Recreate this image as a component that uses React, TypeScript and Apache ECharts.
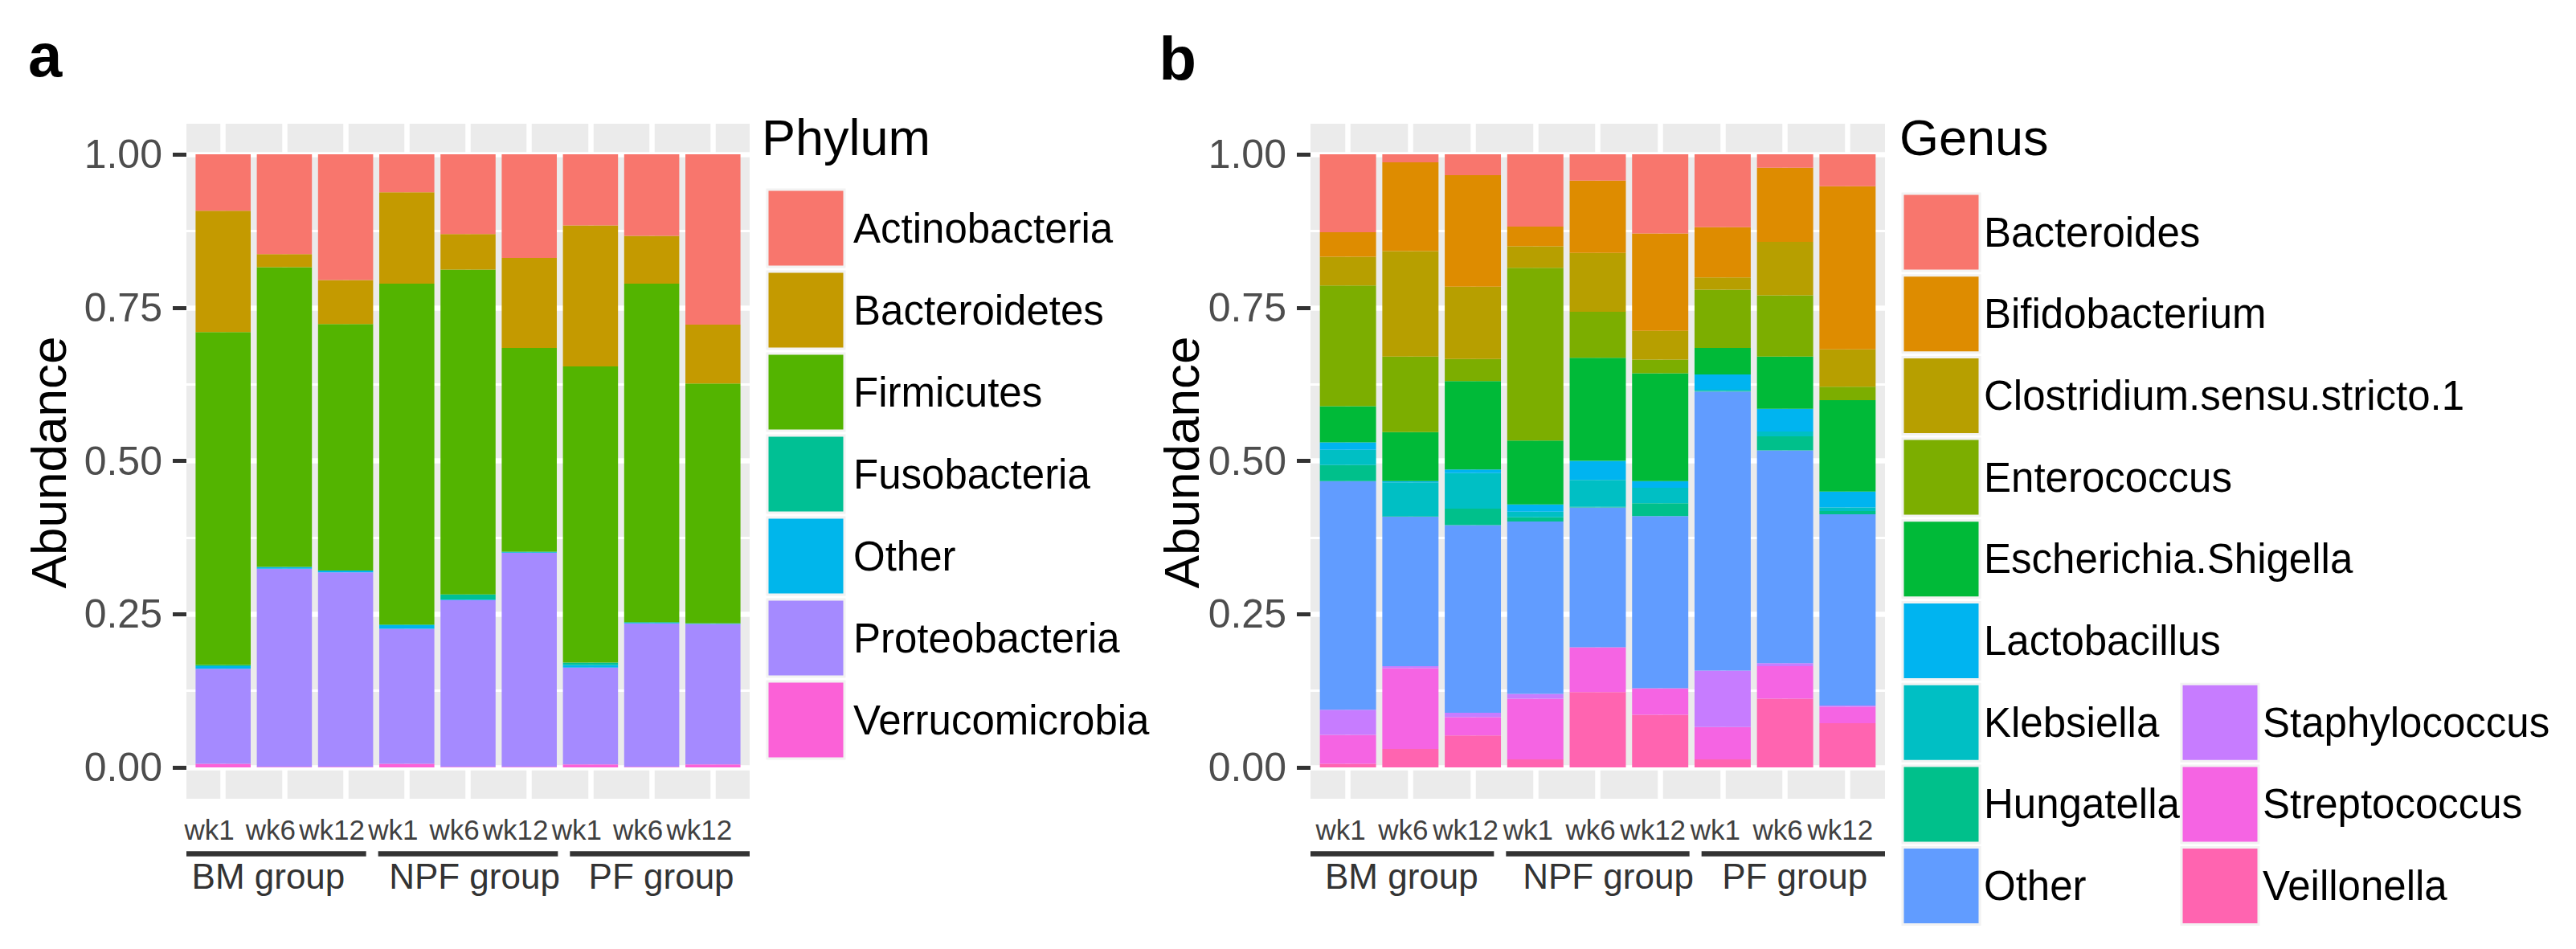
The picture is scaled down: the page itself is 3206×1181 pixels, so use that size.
import React, { useEffect, useRef } from 'react';
import * as echarts from 'echarts';

const FONT = "'Liberation Sans', Arial, Helvetica, sans-serif";

// ---------- categories & tick labels ----------
const samples = ['BM wk1', 'BM wk6', 'BM wk12', 'NPF wk1', 'NPF wk6', 'NPF wk12', 'PF wk1', 'PF wk6', 'PF wk12'];
const weekLabels = ['wk1', 'wk6', 'wk12', 'wk1', 'wk6', 'wk12', 'wk1', 'wk6', 'wk12'];
const groupLabels = ['BM group', 'NPF group', 'PF group'];
const yTickLabels = ['0.00', '0.25', '0.50', '0.75', '1.00'];

// ---------- panel a: Phylum ----------
const phylumNames = ['Actinobacteria', 'Bacteroidetes', 'Firmicutes', 'Fusobacteria', 'Other', 'Proteobacteria', 'Verrucomicrobia'];
const phylumColors = ['#F8766D', '#C49A00', '#53B400', '#00C094', '#00B6EB', '#A58AFF', '#FB61D7'];
const actinobacteria = [0.092, 0.163, 0.205, 0.062, 0.130, 0.169, 0.116, 0.133, 0.278];
const bacteroidetes = [0.198, 0.021, 0.072, 0.149, 0.058, 0.147, 0.230, 0.078, 0.096];
const firmicutes = [0.543, 0.489, 0.402, 0.556, 0.530, 0.332, 0.483, 0.552, 0.391];
const fusobacteria = [0.002, 0, 0, 0.001, 0.008, 0.001, 0.004, 0.001, 0];
const otherPhylum = [0.004, 0.003, 0.003, 0.006, 0.001, 0.001, 0.004, 0.001, 0.001];
const proteobacteria = [0.155, 0.323, 0.317, 0.220, 0.272, 0.349, 0.158, 0.234, 0.229];
const verrucomicrobia = [0.006, 0.001, 0.001, 0.006, 0.001, 0.001, 0.005, 0.001, 0.005];
const phylumValues = [actinobacteria, bacteroidetes, firmicutes, fusobacteria, otherPhylum, proteobacteria, verrucomicrobia];

// ---------- panel b: Genus ----------
const genusNames = ['Bacteroides', 'Bifidobacterium', 'Clostridium.sensu.stricto.1', 'Enterococcus', 'Escherichia.Shigella',
  'Lactobacillus', 'Klebsiella', 'Hungatella', 'Other', 'Staphylococcus', 'Streptococcus', 'Veillonella'];
const genusColors = ['#F8766D', '#DE8C00', '#B79F00', '#7CAE00', '#00BA38', '#00B4F0', '#00BFC4', '#00C08B', '#619CFF', '#C77CFF', '#F564E3', '#FF64B0'];
const bacteroides = [0.127, 0.013, 0.034, 0.118, 0.043, 0.129, 0.119, 0.022, 0.052];
const bifidobacterium = [0.040, 0.145, 0.182, 0.032, 0.118, 0.159, 0.082, 0.121, 0.266];
const clostridium = [0.047, 0.172, 0.118, 0.035, 0.096, 0.047, 0.020, 0.087, 0.061];
const enterococcus = [0.197, 0.123, 0.036, 0.282, 0.075, 0.022, 0.095, 0.100, 0.022];
const escherichia = [0.059, 0.080, 0.144, 0.104, 0.168, 0.176, 0.043, 0.085, 0.149];
const lactobacillus = [0.012, 0.002, 0.006, 0.012, 0.031, 0.011, 0.025, 0.037, 0.026];
const klebsiella = [0.025, 0.055, 0.058, 0.009, 0.044, 0.025, 0.002, 0.008, 0.006];
const hungatella = [0.026, 0.001, 0.027, 0.007, 0.001, 0.021, 0.001, 0.023, 0.005];
const otherGenus = [0.373, 0.244, 0.306, 0.281, 0.228, 0.281, 0.455, 0.347, 0.312];
const staphylococcus = [0.041, 0.003, 0.007, 0.008, 0, 0, 0.092, 0.005, 0.002];
const streptococcus = [0.047, 0.132, 0.030, 0.099, 0.073, 0.043, 0.053, 0.053, 0.027];
const veillonella = [0.006, 0.030, 0.052, 0.013, 0.123, 0.086, 0.013, 0.112, 0.072];
const genusValues = [bacteroides, bifidobacterium, clostridium, enterococcus, escherichia, lactobacillus,
  klebsiella, hungatella, otherGenus, staphylococcus, streptococcus, veillonella];
const GENUS_SUFFIX = ' (genus)';
const genusSeriesNames = genusNames.map((n) => (n === 'Other' ? n + GENUS_SUFFIX : n));

// ---------- layout ----------
const PANEL_TOP = 154;
const VAL_TOP = 192;
const VAL_H = 763;
const PANEL_H = 840;
const panels = [
  { left: 232, right: 933, wkPad: [0, 34, 0, 0], groupShift: [-20, 8, 12] },
  { left: 1631, right: 2346, wkPad: [0, 18, 0, 0], groupShift: [-11, 13, 12] },
];

function shiftPad(s: number) {
  return s < 0 ? [0, -2 * s, 0, 0] : [0, 0, 0, 2 * s];
}

function buildOption() {
  const grid: any[] = [];
  const xAxis: any[] = [];
  const yAxis: any[] = [];
  panels.forEach((p, pi) => {
    const w = p.right - p.left;
    const u = w / 9.2;
    const gi = pi * 3;
    const rich: any = {};
    p.groupShift.forEach((s, i) => {
      rich[`g${pi}_${i}`] = { padding: shiftPad(s), fontSize: 44, color: '#333333', fontFamily: FONT };
    });
    grid.push(
      { left: p.left, top: PANEL_TOP, width: w, height: PANEL_H, show: true, backgroundColor: '#EBEBEB', borderWidth: 0, z: 0, outerBoundsMode: 'none' },
      { left: p.left, top: VAL_TOP, width: w, height: VAL_H, outerBoundsMode: 'none' },
      { left: p.left + 0.1 * u, top: VAL_TOP, width: 9 * u, height: VAL_H, outerBoundsMode: 'none' },
    );
    xAxis.push(
      { type: 'value', gridIndex: gi, show: false, min: 0, max: 1 },
      { type: 'value', gridIndex: gi + 1, show: false, min: 0, max: 1 },
      {
        type: 'category', gridIndex: gi + 2, data: samples, position: 'bottom', offset: 39, z: 1,
        axisLine: { show: false },
        axisTick: { show: true, alignWithLabel: true, interval: 0, length: 16, lineStyle: { color: '#333333', width: 5 } },
        axisLabel: {
          show: true, interval: 0, margin: 21, fontSize: 35, color: '#404040', fontFamily: FONT, padding: p.wkPad,
          formatter: (_v: string, i: number) => weekLabels[i],
        },
        splitLine: { show: false },
      },
      {
        type: 'category', gridIndex: gi + 2, data: samples, position: 'bottom', offset: 39, z: 1,
        axisLine: { show: false }, axisLabel: { show: false },
        axisTick: { show: true, inside: true, alignWithLabel: true, interval: 0, length: PANEL_H, lineStyle: { color: '#FFFFFF', width: 6.5 } },
        splitLine: { show: false },
      },
      {
        type: 'category', gridIndex: gi + 2, data: groupLabels, position: 'bottom', offset: 39, z: 1,
        axisLine: { show: false }, axisTick: { show: false },
        axisLabel: {
          interval: 0, margin: 74, fontSize: 44, color: '#333333', fontFamily: FONT, rich,
          formatter: (v: string, i: number) => `{g${pi}_${i}|${v}}`,
        },
        splitLine: { show: false },
      },
    );
    yAxis.push(
      { type: 'value', gridIndex: gi, show: false, min: 0, max: 1 },
      {
        type: 'value', gridIndex: gi + 1, min: 0, max: 1, interval: 0.25, position: 'left', z: 1,
        axisLine: { show: false },
        axisTick: { show: true, length: 17, lineStyle: { color: '#333333', width: 5 } },
        axisLabel: {
          margin: 30, fontSize: 50, color: '#4D4D4D', fontFamily: FONT, showMinLabel: true, showMaxLabel: true,
          formatter: (v: number) => yTickLabels[Math.round(v / 0.25)],
        },
        splitLine: { show: true, lineStyle: { color: '#FFFFFF', width: 6.5 } },
        minorTick: { show: false, splitNumber: 2 },
        minorSplitLine: { show: true, lineStyle: { color: '#FFFFFF', width: 3 } },
      },
      { type: 'value', gridIndex: gi + 2, show: false, min: 0, max: 1 },
    );
  });

  const series: any[] = [];
  for (let k = phylumNames.length - 1; k >= 0; k--) {
    series.push({
      type: 'bar', name: phylumNames[k], stack: 'phylum', xAxisIndex: 2, yAxisIndex: 2, barWidth: '90%',
      data: phylumValues[k], itemStyle: { color: phylumColors[k] }, silent: true, emphasis: { disabled: true },
    });
  }
  for (let k = genusNames.length - 1; k >= 0; k--) {
    series.push({
      type: 'bar', name: genusSeriesNames[k], stack: 'genus', xAxisIndex: 7, yAxisIndex: 5, barWidth: '90%',
      data: genusValues[k], itemStyle: { color: genusColors[k] }, silent: true, emphasis: { disabled: true },
    });
  }

  const legendBase = {
    orient: 'vertical', padding: 0, itemWidth: 96, itemHeight: 96, icon: 'rect', selectedMode: false,
    itemStyle: { borderColor: '#F2F2F2', borderWidth: 3 },
    formatter: (n: string) => n.replace(GENUS_SUFFIX, ''),
  };
  const ROW_B = 101.7;
  const legend = [
    { ...legendBase, left: 953.5, top: 234.5, itemGap: 3, data: phylumNames,
      textStyle: { fontSize: 51, color: '#000000', fontFamily: FONT, padding: [0, 0, 0, 6] } },
    { ...legendBase, left: 2366.5, top: 239.5, itemGap: ROW_B - 99, data: genusSeriesNames.slice(0, 9),
      textStyle: { fontSize: 51, color: '#000000', fontFamily: FONT } },
    { ...legendBase, left: 2713.5, top: 239.5 + 6 * ROW_B, itemGap: ROW_B - 99, data: genusSeriesNames.slice(9),
      textStyle: { fontSize: 51, color: '#000000', fontFamily: FONT } },
  ];

  return {
    animation: false,
    backgroundColor: '#FFFFFF',
    textStyle: { fontFamily: FONT },
    tooltip: { show: false },
    grid, xAxis, yAxis, legend, series,
  };
}

function textEl(text: string, x: number, y: number, size: number, extra: any = {}, style: any = {}) {
  return {
    type: 'text', x, y, silent: true, ...extra,
    style: { text, fontSize: size, fontFamily: FONT, fill: '#000000', verticalAlign: 'middle', align: 'left', ...style },
  };
}

export default function App() {
  const ref = useRef<HTMLDivElement>(null);
  useEffect(() => {
    if (!ref.current) return;
    document.body.style.margin = '0';
    const chart = echarts.init(ref.current, undefined, { renderer: 'svg', width: 3206, height: 1181 });
    chart.setOption(buildOption());

    const elements: any[] = [
      textEl('a', 35, 68.7, 76, {}, { fontWeight: 'bold' }),
      textEl('b', 1442.5, 72.7, 76, {}, { fontWeight: 'bold' }),
      textEl('Phylum', 948, 171.2, 63),
      textEl('Genus', 2364, 171.2, 63),
      textEl('Abundance', 60.5, 575.5, 62, { rotation: Math.PI / 2 }, { align: 'center' }),
      textEl('Abundance', 1470.5, 575.5, 62, { rotation: Math.PI / 2 }, { align: 'center' }),
    ];
    [2, 7].forEach((axisIndex) => {
      const c0 = chart.convertToPixel({ xAxisIndex: axisIndex } as any, samples[0]) as number;
      const c1 = chart.convertToPixel({ xAxisIndex: axisIndex } as any, samples[1]) as number;
      const c8 = chart.convertToPixel({ xAxisIndex: axisIndex } as any, samples[8]) as number;
      const u = c1 - c0;
      const left = c0 - 0.6 * u;
      const right = c8 + 0.6 * u;
      const gap = 15;
      const seg = (right - left - 2 * gap) / 3;
      for (let g = 0; g < 3; g++) {
        const x1 = left + g * (seg + gap);
        elements.push({
          type: 'line', silent: true,
          shape: { x1, y1: 1062.5, x2: x1 + seg, y2: 1062.5 },
          style: { stroke: '#333333', lineWidth: 6.5 },
        });
      }
    });
    chart.setOption({ graphic: { elements } });
    return () => chart.dispose();
  }, []);
  return (
    <div
      ref={ref}
      style={{ position: 'relative', width: 3206, height: 1181, background: '#FFFFFF' }}
    />
  );
}
